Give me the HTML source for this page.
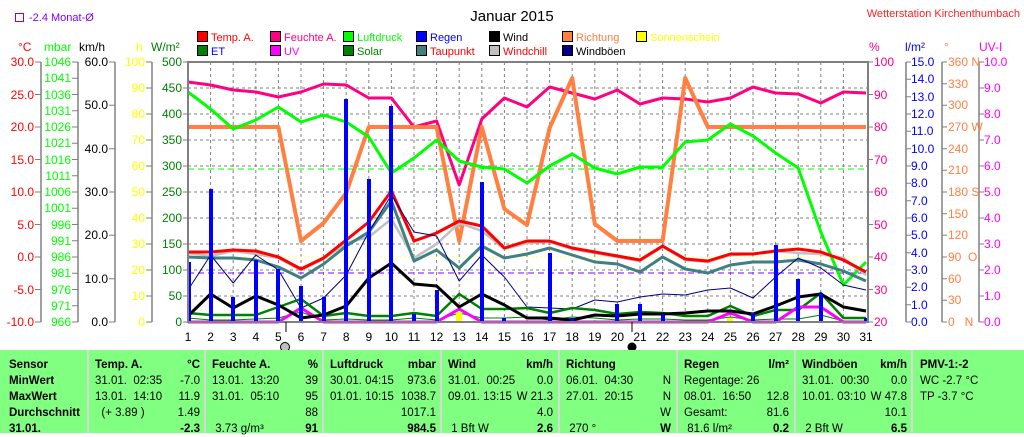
<!DOCTYPE html>
<html><head><meta charset="utf-8"><style>
body{margin:0;background:#fff;width:1024px;height:433px;overflow:hidden;position:relative;font-family:"Liberation Sans",sans-serif}
svg{position:absolute;left:0;top:0}
.tb{position:absolute;left:0;top:350px;width:1024px;height:83px;background:#80ff80;font-size:11.5px;color:#000}
.c{position:absolute;white-space:pre}
.sep{position:absolute;top:0;width:2px;height:83px;background:#d8d8d8}
.b{font-weight:bold}
</style></head><body>
<svg width="1024" height="351" font-family="Liberation Sans, sans-serif" font-size="12">
<text x="512" y="21" font-size="15" text-anchor="middle">Januar 2015</text>
<text x="1020" y="17" fill="#ff2020" text-anchor="end" font-size="11">Wetterstation Kirchenthumbach</text>
<rect x="15.5" y="13.5" width="8" height="8" fill="none" stroke="#8000ff"/>
<text x="29" y="21" fill="#8000ff" font-size="11">-2.4 Monat-Ø</text>
<g font-size="11">
<rect x="197.5" y="31.5" width="10" height="10" fill="#f00" stroke="#000"/><text x="211" y="41" fill="#f00">Temp. A.</text>
<rect x="270.5" y="31.5" width="10" height="10" fill="#ff0080" stroke="#000"/><text x="284" y="41" fill="#ff0080">Feuchte A.</text>
<rect x="343.5" y="31.5" width="10" height="10" fill="#0f0" stroke="#000"/><text x="357" y="41" fill="#0f0">Luftdruck</text>
<rect x="416.5" y="31.5" width="10" height="10" fill="#00f" stroke="#000"/><text x="430" y="41" fill="#00f">Regen</text>
<rect x="489.5" y="31.5" width="10" height="10" fill="#000" stroke="#000"/><text x="503" y="41" fill="#000">Wind</text>
<rect x="562.5" y="31.5" width="10" height="10" fill="#ff8040" stroke="#000"/><text x="576" y="41" fill="#ff8040">Richtung</text>
<rect x="636.5" y="31.5" width="10" height="10" fill="#ff0" stroke="#000"/><text x="650" y="41" fill="#ff0">Sonnenschein</text>
<rect x="197.5" y="45.5" width="10" height="10" fill="#008000" stroke="#000"/><text x="211" y="55" fill="#00f">ET</text>
<rect x="270.5" y="45.5" width="10" height="10" fill="#f0f" stroke="#000"/><text x="284" y="55" fill="#f0f">UV</text>
<rect x="343.5" y="45.5" width="10" height="10" fill="#008000" stroke="#000"/><text x="357" y="55" fill="#008000">Solar</text>
<rect x="416.5" y="45.5" width="10" height="10" fill="#408080" stroke="#000"/><text x="430" y="55" fill="#f00">Taupunkt</text>
<rect x="489.5" y="45.5" width="10" height="10" fill="#c0c0c0" stroke="#000"/><text x="503" y="55" fill="#f00">Windchill</text>
<rect x="562.5" y="45.5" width="10" height="10" fill="#000080" stroke="#000"/><text x="576" y="55">Windböen</text>
</g>
<text x="18" y="51" fill="#f00">°C</text>
<text x="44" y="51" fill="#0f0">mbar</text>
<text x="79" y="51">km/h</text>
<text x="136" y="51" fill="#ff0">h</text>
<text x="151" y="51" fill="#008000">W/m²</text>
<text x="869" y="51" fill="#ff0080">%</text>
<text x="905" y="51" fill="#00f">l/m²</text>
<text x="944" y="51" fill="#ff8040">°</text>
<text x="979" y="51" fill="#f0f">UV-I</text>
<g stroke="#808080" stroke-width="1.5">
<line x1="41" y1="62" x2="41" y2="322"/><line x1="78" y1="62" x2="78" y2="322"/>
<line x1="115" y1="62" x2="115" y2="322"/><line x1="152" y1="62" x2="152" y2="322"/>
<line x1="906" y1="62" x2="906" y2="322"/><line x1="942" y1="62" x2="942" y2="322"/>
<line x1="979" y1="62" x2="979" y2="322"/>
</g>
<g stroke="#808080">
<path d="M35 62h6M35 94.5h6M35 127h6M35 159.5h6M35 192h6M35 224.5h6M35 257h6M35 289.5h6M35 322h6"/>
<path d="M72 62h6M72 78.25h6M72 94.5h6M72 110.75h6M72 127h6M72 143.25h6M72 159.5h6M72 175.75h6M72 192h6M72 208.25h6M72 224.5h6M72 240.75h6M72 257h6M72 273.25h6M72 289.5h6M72 305.75h6M72 322h6"/>
<path d="M109 62h6M109 105.3h6M109 148.7h6M109 192h6M109 235.3h6M109 278.7h6M109 322h6"/>
<path d="M146 62h6M146 88h6M146 114h6M146 140h6M146 166h6M146 192h6M146 218h6M146 244h6M146 270h6M146 296h6M146 322h6"/>
<path d="M183 62h5M183 88h5M183 114h5M183 140h5M183 166h5M183 192h5M183 218h5M183 244h5M183 270h5M183 296h5M183 322h5"/>
<path d="M868 62h5M868 94.5h5M868 127h5M868 159.5h5M868 192h5M868 224.5h5M868 257h5M868 289.5h5M868 322h5"/>
<path d="M906 62h5M906 79.3h5M906 96.7h5M906 114h5M906 131.3h5M906 148.7h5M906 166h5M906 183.3h5M906 200.7h5M906 218h5M906 235.3h5M906 252.7h5M906 270h5M906 287.3h5M906 304.7h5M906 322h5"/>
<path d="M942 62h5M942 83.7h5M942 105.3h5M942 127h5M942 148.7h5M942 170.3h5M942 192h5M942 213.7h5M942 235.3h5M942 257h5M942 278.7h5M942 300.3h5M942 322h5"/>
<path d="M979 62h5M979 88h5M979 114h5M979 140h5M979 166h5M979 192h5M979 218h5M979 244h5M979 270h5M979 296h5M979 322h5"/>
</g>
<g fill="#f00" text-anchor="end"><text x="34" y="66">30.0</text><text x="34" y="99">25.0</text><text x="34" y="131">20.0</text><text x="34" y="164">15.0</text><text x="34" y="196">10.0</text><text x="34" y="229">5.0</text><text x="34" y="261">0.0</text><text x="34" y="294">-5.0</text><text x="34" y="326">-10.0</text></g>
<g fill="#0f0" text-anchor="end"><text x="71" y="66">1046</text><text x="71" y="82">1041</text><text x="71" y="99">1036</text><text x="71" y="115">1031</text><text x="71" y="131">1026</text><text x="71" y="147">1021</text><text x="71" y="164">1016</text><text x="71" y="180">1011</text><text x="71" y="196">1006</text><text x="71" y="212">1001</text><text x="71" y="229">996</text><text x="71" y="245">991</text><text x="71" y="261">986</text><text x="71" y="277">981</text><text x="71" y="294">976</text><text x="71" y="310">971</text><text x="71" y="326">966</text></g>
<g fill="#000" text-anchor="end"><text x="108" y="66">60.0</text><text x="108" y="109">50.0</text><text x="108" y="153">40.0</text><text x="108" y="196">30.0</text><text x="108" y="239">20.0</text><text x="108" y="283">10.0</text><text x="108" y="326">0.0</text></g>
<g fill="#ff0" text-anchor="end"><text x="145" y="66">100</text><text x="145" y="92">90</text><text x="145" y="118">80</text><text x="145" y="144">70</text><text x="145" y="170">60</text><text x="145" y="196">50</text><text x="145" y="222">40</text><text x="145" y="248">30</text><text x="145" y="274">20</text><text x="145" y="300">10</text><text x="145" y="326">0</text></g>
<g fill="#008000" text-anchor="end"><text x="182" y="66">500</text><text x="182" y="92">450</text><text x="182" y="118">400</text><text x="182" y="144">350</text><text x="182" y="170">300</text><text x="182" y="196">250</text><text x="182" y="222">200</text><text x="182" y="248">150</text><text x="182" y="274">100</text><text x="182" y="300">50</text><text x="182" y="326">0</text></g>
<g fill="#ff0080"><text x="874" y="66">100</text><text x="874" y="99">90</text><text x="874" y="131">80</text><text x="874" y="164">70</text><text x="874" y="196">60</text><text x="874" y="229">50</text><text x="874" y="261">40</text><text x="874" y="294">30</text><text x="874" y="326">20</text></g>
<g fill="#00f"><text x="911" y="66">15.0</text><text x="911" y="83">14.0</text><text x="911" y="101">13.0</text><text x="911" y="118">12.0</text><text x="911" y="135">11.0</text><text x="911" y="153">10.0</text><text x="911" y="170">9.0</text><text x="911" y="187">8.0</text><text x="911" y="205">7.0</text><text x="911" y="222">6.0</text><text x="911" y="239">5.0</text><text x="911" y="257">4.0</text><text x="911" y="274">3.0</text><text x="911" y="291">2.0</text><text x="911" y="309">1.0</text><text x="911" y="326">0.0</text></g>
<g fill="#ff8040"><text x="948" y="66">360 N</text><text x="948" y="88">330</text><text x="948" y="109">300</text><text x="948" y="131">270 W</text><text x="948" y="153">240</text><text x="948" y="174">210</text><text x="948" y="196">180 S</text><text x="948" y="218">150</text><text x="948" y="239">120</text><text x="948" y="261">90 &#160;O</text><text x="948" y="283">60</text><text x="948" y="304">30</text><text x="948" y="326">0 &#160;&#160;N</text></g>
<g fill="#f0f"><text x="984" y="66">10.0</text><text x="984" y="92">9.0</text><text x="984" y="118">8.0</text><text x="984" y="144">7.0</text><text x="984" y="170">6.0</text><text x="984" y="196">5.0</text><text x="984" y="222">4.0</text><text x="984" y="248">3.0</text><text x="984" y="274">2.0</text><text x="984" y="300">1.0</text><text x="984" y="326">0.0</text></g>
<g stroke="#808080" stroke-dasharray="3,3" stroke-width="1">
<path d="M188 88H868M188 114H868M188 140H868M188 166H868M188 192H868M188 218H868M188 244H868M188 270H868M188 296H868"/>
<path d="M210.6 62V322M233.2 62V322M255.8 62V322M278.4 62V322M301 62V322M323.6 62V322M346.2 62V322M368.8 62V322M391.4 62V322M414 62V322M436.6 62V322M459.2 62V322M481.8 62V322M504.4 62V322M527 62V322M549.6 62V322M572.2 62V322M594.8 62V322M617.4 62V322M640 62V322M662.6 62V322M685.2 62V322M707.8 62V322M730.4 62V322M753 62V322M775.6 62V322M798.2 62V322M820.8 62V322M843.4 62V322"/>
</g>
<line x1="188" y1="169" x2="868" y2="169" stroke="#0f0" stroke-dasharray="6,4"/>
<line x1="188" y1="257" x2="868" y2="257" stroke="#ffff80" stroke-dasharray="2,2"/>
<line x1="188" y1="273" x2="868" y2="273" stroke="#8000ff" stroke-dasharray="6,4"/>
<g fill="none" stroke-linejoin="round">
<polyline stroke="#ff0080" stroke-width="3" points="188,82 210.6,85 233.2,90 255.8,92 278.4,97 301,92 323.6,84 346.2,85 368.8,98 391.4,98 414,127 436.6,121 459.2,185 481.8,119 504.4,98 527,107 549.6,87 572.2,93 594.8,99 617.4,90 640,104 662.6,98 685.2,99 707.8,102 730.4,98 753,87 775.6,93 798.2,94 820.8,103 843.4,92 866,93"/>
<polyline stroke="#ff8040" stroke-width="4" points="188,127 210.6,127 233.2,127 255.8,127 278.4,127 301,241 323.6,223 346.2,193 368.8,127 391.4,127 414,127 436.6,127 459.2,241 481.8,127 504.4,209 527,225 549.6,128 572.2,78 594.8,224 617.4,241 640,241 662.6,241 685.2,78 707.8,127 730.4,127 753,127 775.6,127 798.2,127 820.8,127 843.4,127 866,127"/>
<polyline stroke="#0f0" stroke-width="3" points="188,92 210.6,109 233.2,129 255.8,120 278.4,107 301,122 323.6,115 346.2,122 368.8,137 391.4,173 414,158 436.6,140 459.2,161 481.8,167 504.4,169 527,183 549.6,166 572.2,154 594.8,168 617.4,174 640,167 662.6,167 685.2,142 707.8,140 730.4,124 753,136 775.6,153 798.2,168 820.8,232 843.4,285 866,262"/>
<polyline stroke="#c0c0c0" stroke-width="2.5" points="188,253 210.6,256 233.2,251 255.8,254 278.4,258 301,270 323.6,259 346.2,243 368.8,237 391.4,219 414,258 436.6,244 459.2,223 481.8,231 504.4,249 527,243 549.6,242 572.2,249 594.8,253 617.4,257 640,261 662.6,247 685.2,260 707.8,262 730.4,255 753,254 775.6,251 798.2,253 820.8,254 843.4,258 866,275"/>
<polyline stroke="#408080" stroke-width="3" points="188,257 210.6,258 233.2,258 255.8,260 278.4,267 301,278 323.6,264 346.2,246 368.8,232 391.4,201 414,261 436.6,250 459.2,268 481.8,246 504.4,258 527,254 549.6,248 572.2,255 594.8,262 617.4,264 640,272 662.6,257 685.2,269 707.8,273 730.4,265 753,262 775.6,262 798.2,260 820.8,264 843.4,271 866,281"/>
<polyline stroke="#f00" stroke-width="3" points="188,252 210.6,252 233.2,250 255.8,251 278.4,257 301,269 323.6,258 346.2,240 368.8,222 391.4,191 414,241 436.6,233 459.2,221 481.8,226 504.4,248 527,241 549.6,241 572.2,248 594.8,252 617.4,256 640,260 662.6,246 685.2,259 707.8,261 730.4,254 753,254 775.6,251 798.2,249 820.8,252 843.4,260 866,272"/>
<polyline stroke="#000080" stroke-width="1" points="188,290 210.6,255 233.2,283 255.8,255 278.4,270 301,308 323.6,298 346.2,275 368.8,232 391.4,195 414,232 436.6,236 459.2,281 481.8,255 504.4,277 527,307 549.6,308 572.2,309 594.8,300 617.4,302 640,297 662.6,294 685.2,295 707.8,290 730.4,288 753,298 775.6,277 798.2,258 820.8,268 843.4,285 866,290"/>
<polyline stroke="#008000" stroke-width="1" points="188,318 210.6,320 233.2,320 255.8,319 278.4,318 301,312 323.6,320 346.2,319 368.8,320 391.4,320 414,318 436.6,320 459.2,313 481.8,318 504.4,318 527,317 549.6,320 572.2,317 594.8,318 617.4,320 640,319 662.6,319 685.2,320 707.8,320 730.4,317 753,320 775.6,319 798.2,319 820.8,315 843.4,321 866,321"/>
<polyline stroke="#008000" stroke-width="2.5" points="188,313 210.6,315 233.2,315 255.8,315 278.4,307 301,299 323.6,316 346.2,313 368.8,316 391.4,316 414,313 436.6,316 459.2,294 481.8,309 504.4,309 527,308 549.6,313 572.2,308 594.8,310 617.4,314 640,312 662.6,313 685.2,316 707.8,316 730.4,306 753,316 775.6,310 798.2,310 820.8,293 843.4,318 866,318"/>
<polyline stroke="#f0f" stroke-width="3" points="188,322 278.4,322 301,308 323.6,322 436.6,322 459.2,309 481.8,322 707.8,322 730.4,313 753,322 775.6,322 798.2,307 820.8,307 843.4,322 866,322"/>
<polyline stroke="#000" stroke-width="3" points="188,316 210.6,294 233.2,308 255.8,296 278.4,305 301,318 323.6,315 346.2,306 368.8,278 391.4,263 414,284 436.6,286 459.2,307 481.8,294 504.4,305 527,318 549.6,318 572.2,320 594.8,315 617.4,316 640,314 662.6,314 685.2,313 707.8,311 730.4,311 753,314 775.6,306 798.2,297 820.8,294 843.4,307 866,311"/>
</g>
<g fill="#ff0"><rect x="456" y="312" width="6" height="10"/><rect x="727" y="318" width="6" height="4"/></g>
<g fill="#00f">
<rect x="188" y="262" width="3" height="60"/><rect x="209" y="189" width="4" height="133"/><rect x="231" y="297" width="4" height="25"/><rect x="254" y="260" width="4" height="62"/><rect x="276" y="269" width="4" height="53"/><rect x="299" y="286" width="4" height="36"/><rect x="322" y="297" width="4" height="25"/><rect x="344" y="99" width="4" height="223"/><rect x="367" y="179" width="4" height="143"/><rect x="389" y="106" width="4" height="216"/><rect x="412" y="314" width="4" height="8"/><rect x="435" y="290" width="4" height="32"/><rect x="480" y="182" width="4" height="140"/><rect x="502" y="318" width="4" height="4"/><rect x="548" y="253" width="4" height="69"/><rect x="570" y="318" width="4" height="4"/><rect x="615" y="304" width="4" height="18"/><rect x="638" y="304" width="4" height="18"/><rect x="661" y="314" width="4" height="8"/><rect x="751" y="313" width="4" height="9"/><rect x="774" y="245" width="4" height="77"/><rect x="796" y="279" width="4" height="43"/><rect x="819" y="293" width="4" height="29"/><rect x="864" y="318" width="3" height="4"/>
</g>
<rect x="188" y="62" width="680" height="260" fill="none" stroke="#808080" stroke-width="2"/>
<g text-anchor="middle"><text x="188" y="341">1</text><text x="210.6" y="341">2</text><text x="233.2" y="341">3</text><text x="255.8" y="341">4</text><text x="278.4" y="341">5</text><text x="301" y="341">6</text><text x="323.6" y="341">7</text><text x="346.2" y="341">8</text><text x="368.8" y="341">9</text><text x="391.4" y="341">10</text><text x="414" y="341">11</text><text x="436.6" y="341">12</text><text x="459.2" y="341">13</text><text x="481.8" y="341">14</text><text x="504.4" y="341">15</text><text x="527" y="341">16</text><text x="549.6" y="341">17</text><text x="572.2" y="341">18</text><text x="594.8" y="341">19</text><text x="617.4" y="341">20</text><text x="640" y="341">21</text><text x="662.6" y="341">22</text><text x="685.2" y="341">23</text><text x="707.8" y="341">24</text><text x="730.4" y="341">25</text><text x="753" y="341">26</text><text x="775.6" y="341">27</text><text x="798.2" y="341">28</text><text x="820.8" y="341">29</text><text x="843.4" y="341">30</text><text x="866" y="341">31</text></g>
<line x1="286" y1="322" x2="286" y2="332" stroke="#000"/><line x1="632" y1="322" x2="632" y2="332" stroke="#000"/>
<circle cx="285" cy="347" r="4.5" fill="#c0c0c0" stroke="#000"/>
<circle cx="632" cy="347" r="4.5" fill="#000"/>
</svg>
<div class="tb">
<div class="sep" style="left:87px"></div><div class="sep" style="left:204px"></div><div class="sep" style="left:322px"></div><div class="sep" style="left:440px"></div><div class="sep" style="left:558px"></div><div class="sep" style="left:676px"></div><div class="sep" style="left:794px"></div><div class="sep" style="left:911px"></div>
<div class="c b" style="left:9px;top:7px;line-height:16px">Sensor<br>MinWert<br>MaxWert<br>Durchschnitt<br>31.01.</div>
<div class="c" style="left:95px;top:7px;line-height:16px"><b>Temp. A.</b><br>31.01.  02:35<br>13.01.  14:10<br>  (+ 3.89 )</div>
<div class="c" style="left:160px;top:7px;width:40px;text-align:right;line-height:16px"><b>°C</b><br>-7.0<br>11.9<br>1.49<br><b>-2.3</b></div>
<div class="c" style="left:212px;top:7px;line-height:16px"><b>Feuchte A.</b><br>13.01.  13:20<br>31.01.  05:10<br><br> 3.73 g/m³</div>
<div class="c" style="left:278px;top:7px;width:40px;text-align:right;line-height:16px"><b>%</b><br>39<br>95<br>88<br><b>91</b></div>
<div class="c" style="left:330px;top:7px;line-height:16px"><b>Luftdruck</b><br>30.01. 04:15<br>01.01. 10:15</div>
<div class="c" style="left:390px;top:7px;width:46px;text-align:right;line-height:16px"><b>mbar</b><br>973.6<br>1038.7<br>1017.1<br><b>984.5</b></div>
<div class="c" style="left:448px;top:7px;line-height:16px"><b>Wind</b><br>31.01.  00:25<br>09.01. 13:15<br><br> 1 Bft W</div>
<div class="c" style="left:490px;top:7px;width:63px;text-align:right;line-height:16px"><b>km/h</b><br>0.0<br>W 21.3<br>4.0<br><b>2.6</b></div>
<div class="c" style="left:566px;top:7px;line-height:16px"><b>Richtung</b><br>06.01.  04:30<br>27.01.  20:15<br><br> 270 °</div>
<div class="c" style="left:630px;top:7px;width:41px;text-align:right;line-height:16px"><br>N<br>N<br>W<br><b>W</b></div>
<div class="c" style="left:684px;top:7px;line-height:16px"><b>Regen</b><br>Regentage: 26<br>08.01.  16:50<br>Gesamt:<br> 81.6 l/m²</div>
<div class="c" style="left:740px;top:7px;width:49px;text-align:right;line-height:16px"><b>l/m²</b><br><br>12.8<br>81.6<br><b>0.2</b></div>
<div class="c" style="left:802px;top:7px;line-height:16px"><b>Windböen</b><br>31.01.  00:30<br>10.01. 03:10</div>
<div class="c" style="left:850px;top:7px;width:57px;text-align:right;line-height:16px"><b>km/h</b><br>0.0<br>W 47.8<br>10.1<br><b>6.5</b></div>
<div class="c" style="left:802px;top:71px;line-height:16px"> 2 Bft W</div>
<div class="c" style="left:920px;top:7px;line-height:16px"><b>PMV-1:-2</b><br>WC -2.7 °C<br>TP -3.7 °C</div>
</div>
</body></html>
